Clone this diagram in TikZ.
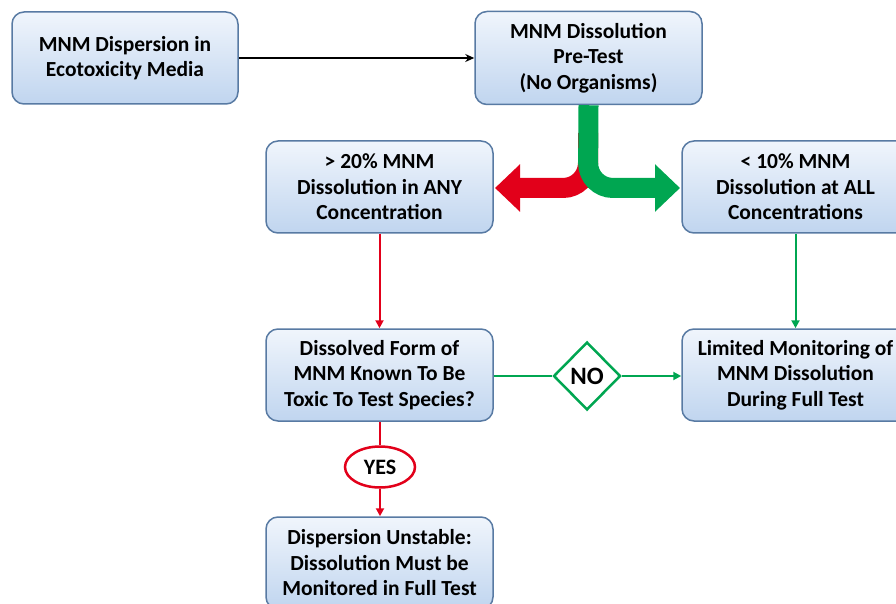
\documentclass[tikz,border=0pt]{standalone}
\usepackage{fontspec}
\setmainfont{Carlito}
\usetikzlibrary{arrows.meta,shapes.geometric,calc}
\definecolor{boxborder}{RGB}{88,122,163}
\definecolor{boxtop}{RGB}{240,245,252}
\definecolor{boxbot}{RGB}{192,213,239}
\definecolor{mygreen}{RGB}{0,166,81}
\definecolor{myred}{RGB}{226,0,26}
\begin{document}
\begin{tikzpicture}[x=1pt,y=1pt,
  box/.style={draw=boxborder, line width=1.5pt, rounded corners=12pt,
    top color=boxtop, bottom color=boxbot, minimum width=227pt, minimum height=92pt,
    inner sep=0pt, align=center, font=\fontsize{21.5}{25.5}\selectfont\bfseries},
  blackarrow/.style={line width=2.5pt, -{Stealth[length=9pt,width=8pt]}},
  greenline/.style={draw=mygreen, line width=2pt, -{Triangle[length=8pt,width=8pt]}},
  redline/.style={draw=myred, line width=2pt, -{Triangle[length=8pt,width=8pt]}},
  bigarrow/.style={line width=20pt, rounded corners=25pt, -{Triangle[length=25pt,width=46pt]}},
  lbl/.style={font=\fontsize{22}{26}\selectfont\bfseries, inner sep=0pt}
]
\useasboundingbox (0,0) rectangle (896,603);
\node[box, minimum width=226pt] (b1) at (125,545) {MNM Dispersion in\\Ecotoxicity Media};
\node[box, minimum height=93pt] (b2) at (588.5,545) {MNM Dissolution\\Pre-Test\\(No Organisms)};
\node[box] (b3) at (379.5,416) {> 20\% MNM\\Dissolution in ANY\\Concentration};
\node[box] (b4) at (795.5,416) {< 10\% MNM\\Dissolution at ALL\\Concentrations};
\node[box] (b5) at (379.5,228) {Dissolved Form of\\MNM Known To Be\\Toxic To Test Species?};
\node[box] (b6) at (795.5,228) {Limited Monitoring of\\MNM Dissolution\\During Full Test};
\node[box] (b7) at (379.5,40) {Dispersion Unstable:\\Dissolution Must be\\Monitored in Full Test};
\node[diamond, draw=mygreen, line width=2.5pt, fill=white, minimum width=67pt, minimum height=68pt, inner sep=0pt, lbl, font=\fontsize{25}{28}\selectfont\bfseries] (no) at (587,227) {NO};
\node[ellipse, draw=myred, line width=2.5pt, fill=white, minimum width=70pt, minimum height=41pt, inner sep=0pt, lbl] (yes) at (380,136) {YES};
\coordinate (rstart) at (588,470);
\coordinate (turn) at (588,415);
\draw[bigarrow, draw=myred] (rstart) -- (turn) -- (495,415);
\draw[bigarrow, draw=mygreen] (b2.south) -- (turn) -- (680,415);
\draw[blackarrow] (b1.east) -- (b2.west);
\draw[redline] (b3.south) -- (b5.north);
\draw[greenline] (b4.south) -- (b6.north);
\draw[mygreen, line width=2pt] (b5.east |- no.west) -- (no.west);
\draw[greenline] (no.east) -- (b6.west |- no.east);
\draw[myred, line width=2pt] (b5.south -| yes.north) -- (yes.north);
\draw[redline] (yes.south) -- (b7.north -| yes.south);
\end{tikzpicture}
\end{document}
